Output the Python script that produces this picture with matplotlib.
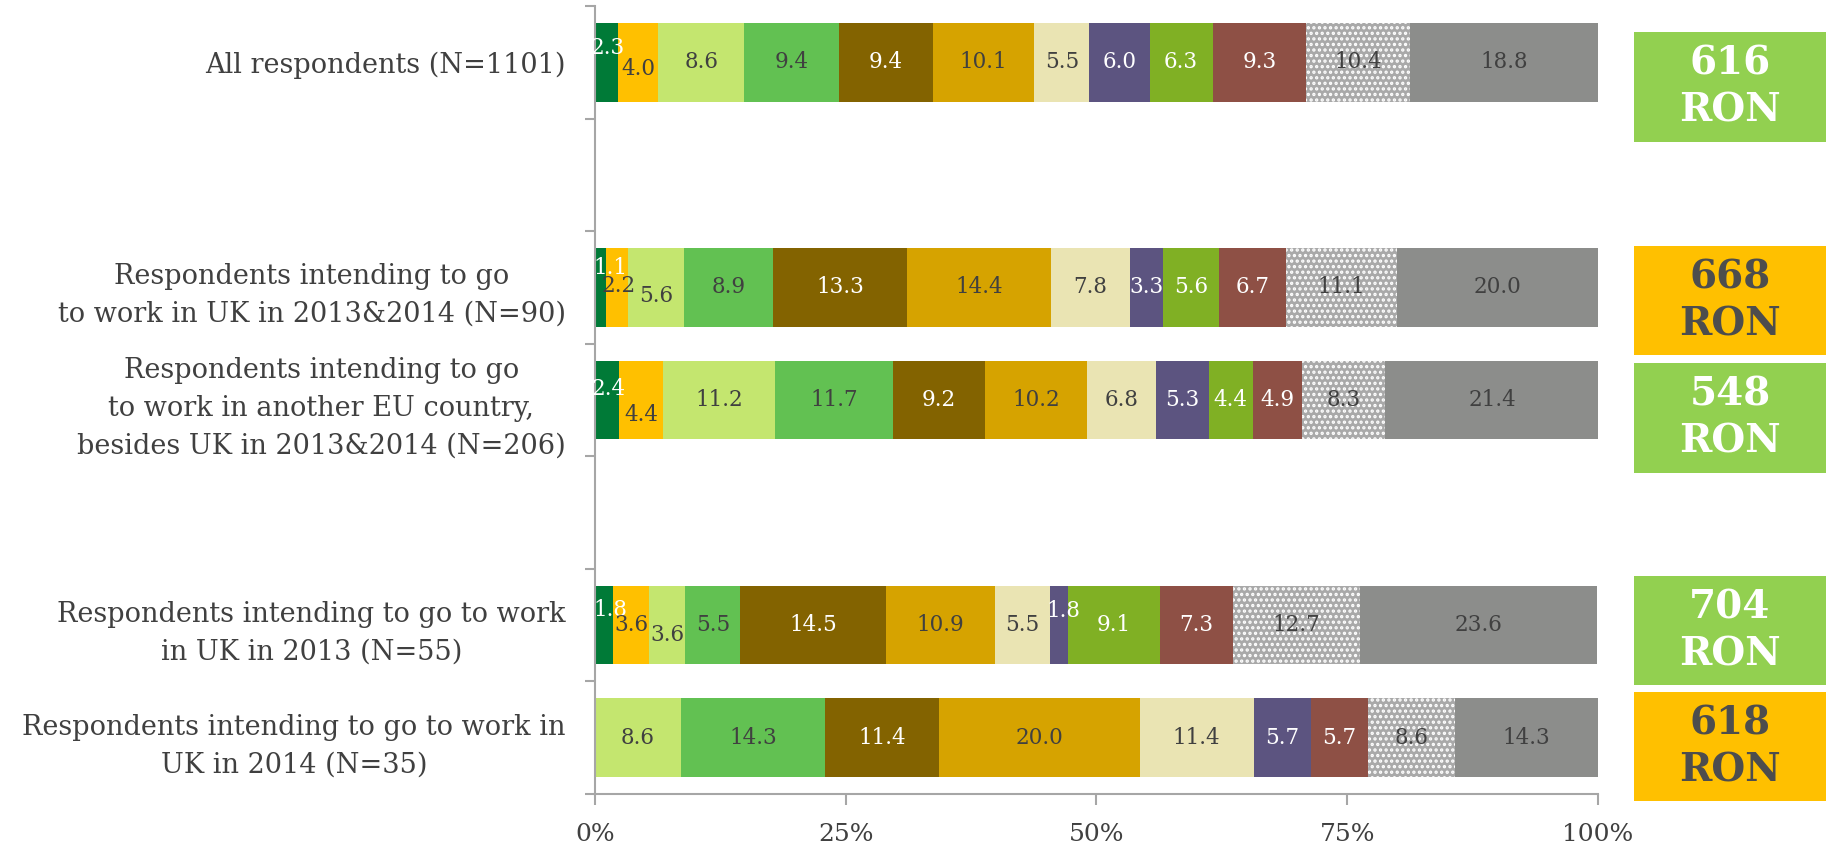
import matplotlib
matplotlib.use("Agg")
import matplotlib.pyplot as plt
import numpy as np

plt.rcParams["font.family"] = ["DejaVu Serif"]
plt.rcParams["hatch.linewidth"] = 1.6

# --- data -------------------------------------------------------------
groups = [
    "All respondents (N=1101)",
    "",
    "Respondents intending to go\nto work in UK in 2013&2014 (N=90)",
    "Respondents intending to go\nto work in another EU country,\nbesides UK in 2013&2014 (N=206)",
    "",
    "Respondents intending to go to work\nin UK in 2013 (N=55)",
    "Respondents intending to go to work in\nUK in 2014 (N=35)",
]

# one list per segment (12 answer categories), one value per group (None = blank row)
seg_values = [
    [2.3, None, 1.1, 2.4, None, 1.8, 0.0],
    [4.0, None, 2.2, 4.4, None, 3.6, 0.0],
    [8.6, None, 5.6, 11.2, None, 3.6, 8.6],
    [9.4, None, 8.9, 11.7, None, 5.5, 14.3],
    [9.4, None, 13.3, 9.2, None, 14.5, 11.4],
    [10.1, None, 14.4, 10.2, None, 10.9, 20.0],
    [5.5, None, 7.8, 6.8, None, 5.5, 11.4],
    [6.0, None, 3.3, 5.3, None, 1.8, 5.7],
    [6.3, None, 5.6, 4.4, None, 9.1, 0.0],
    [9.3, None, 6.7, 4.9, None, 7.3, 5.7],
    [10.4, None, 11.1, 8.3, None, 12.7, 8.6],
    [18.8, None, 20.0, 21.4, None, 23.6, 14.3],
]

mean_income = ["616", None, "668", "548", None, "704", "618"]
x_ticks = [0, 25, 50, 75, 100]

# --- style ------------------------------------------------------------
seg_colors = ["#007A37", "#FFC000", "#C4E66F", "#62C152", "#836300", "#D6A300",
              "#EAE4B3", "#5C5480", "#80B024", "#8E5045", "#A9A9A9", "#8C8D8B"]
seg_text = ["white", "#404040", "#404040", "#404040", "white", "#404040",
            "#404040", "white", "white", "white", "#404040", "#404040"]
# manual nudges (points) for labels of narrow segments: (group, segment) -> (dx, dy)
nudge = {(0, 0): (1, 10), (0, 1): (0, -5), (2, 0): (7, 14), (2, 1): (1, 1), (2, 2): (0, -6),
         (3, 0): (1, 8), (3, 1): (0, -11), (5, 0): (5, 11), (5, 2): (0, -7), (5, 7): (3, 10)}
box_colors = ["#92D050", None, "#FFC000", "#92D050", None, "#92D050", "#FFC000"]
box_text = ["white", None, "#4D4D4D", "white", None, "white", "#4D4D4D"]
box_shift = [0.22, 0, 0.12, 0.16, 0, 0.05, 0.08]

TXT = "#404040"
AXC = "#A6A6A6"

fig = plt.figure(figsize=(18.26, 8.5), dpi=100)
left, right, bottom, top = 0.3258, 0.8751, 0.066, 0.993
ax = fig.add_axes([left, bottom, right - left, top - bottom])

ypos = np.arange(len(groups))
starts = np.zeros(len(groups))
for s, vals in enumerate(seg_values):
    v = np.array([0.0 if x is None else x for x in vals])
    kw = dict(color=seg_colors[s], linewidth=0)
    if s == 10:
        kw = dict(facecolor=seg_colors[s], edgecolor="white", linewidth=0, hatch="...")
    ax.barh(ypos, v, left=starts, height=0.7, **kw)
    for g, x in enumerate(vals):
        if x:
            ax.annotate(f"{x:.1f}", (starts[g] + x / 2, g), xytext=nudge.get((g, s), (0, 0)),
                        textcoords="offset points", ha="center", va="center",
                        fontsize=15.5, color=seg_text[s])
    starts += v

ax.set_xlim(0, 100)
ax.set_ylim(len(groups) - 0.5, -0.5)
ax.set_xticks(x_ticks)
ax.set_xticklabels([f"{t}%" for t in x_ticks])
ax.set_yticks(np.arange(-0.5, len(groups)))
ax.set_yticklabels([])
ax.set_yticks(ypos, minor=True)
ax.set_yticklabels(groups, minor=True)
for lab in ax.get_yticklabels(minor=True):
    lab.set_multialignment("center")
    lab.set_linespacing(1.5)
ax.tick_params(axis="y", which="minor", length=0, pad=21, labelsize=19.5, labelcolor=TXT)
ax.tick_params(axis="y", which="major", length=7, color=AXC, width=1.5)
ax.tick_params(axis="x", length=8, color=AXC, width=1.5, pad=13, labelsize=18, labelcolor=TXT)
for side in ("top", "right"):
    ax.spines[side].set_visible(False)
for side in ("left", "bottom"):
    ax.spines[side].set_color(AXC)
    ax.spines[side].set_linewidth(1.5)

# mean income boxes on the right
bx = fig.add_axes([0.8949, bottom, 0.1051, top - bottom], sharey=ax)
bx.set_xlim(0, 1)
bx.axis("off")
for g, val in enumerate(mean_income):
    if val is None:
        continue
    yc = g + box_shift[g]
    bx.barh(yc, 1, height=0.97, color=box_colors[g], clip_on=False)
    bx.text(0.5, yc, f"{val}\nRON", ha="center", va="center", fontsize=28,
            fontweight="bold", color=box_text[g], linespacing=1.3, clip_on=False)

fig.savefig("out.png", dpi=100)
